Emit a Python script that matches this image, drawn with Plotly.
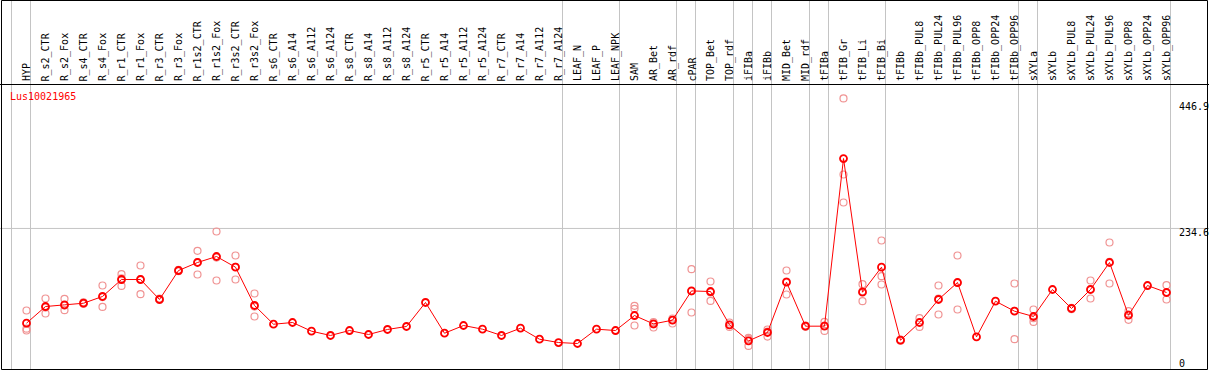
import plotly.graph_objects as go

# ---------------- data ----------------
gene_name = "Lus10021965"

categories = [
    "HYP", "R_s2_CTR", "R_s2_Fox", "R_s4_CTR", "R_s4_Fox", "R_r1_CTR", "R_r1_Fox",
    "R_r3_CTR", "R_r3_Fox", "R_r1s2_CTR", "R_r1s2_Fox", "R_r3s2_CTR", "R_r3s2_Fox",
    "R_s6_CTR", "R_s6_A14", "R_s6_A112", "R_s6_A124", "R_s8_CTR", "R_s8_A14",
    "R_s8_A112", "R_s8_A124", "R_r5_CTR", "R_r5_A14", "R_r5_A112", "R_r5_A124",
    "R_r7_CTR", "R_r7_A14", "R_r7_A112", "R_r7_A124", "LEAF_N", "LEAF_P", "LEAF_NPK",
    "SAM", "AR_Bet", "AR_rdf", "cPAR", "TOP_Bet", "TOP_rdf", "iFIBa", "iFIBb",
    "MID_Bet", "MID_rdf", "tFIBa", "tFIB_Gr", "tFIB_Li", "tFIB_Bi", "tFIBb",
    "tFIBb_PUL8", "tFIBb_PUL24", "tFIBb_PUL96", "tFIBb_OPP8", "tFIBb_OPP24",
    "tFIBb_OPP96", "sXYLa", "sXYLb", "sXYLb_PUL8", "sXYLb_PUL24", "sXYLb_PUL96",
    "sXYLb_OPP8", "sXYLb_OPP24", "sXYLb_OPP96",
]

mean_values = [
    79.9, 107.1, 109.8, 112.5, 123.5, 151.2, 151.2, 118.6, 165.9, 179.0, 188.8,
    171.3, 108.8, 78.2, 81.0, 66.8, 59.8, 67.9, 61.4, 69.6, 74.5, 113.7, 63.5,
    76.1, 70.1, 59.8, 71.7, 53.7, 48.3, 46.7, 70.1, 67.9, 92.4, 78.7, 84.8,
    132.6, 131.6, 77.1, 51.0, 64.7, 146.8, 75.0, 75.0, 348.8, 130.5, 171.3,
    52.1, 81.0, 118.6, 146.3, 57.5, 115.8, 99.5, 90.8, 134.9, 103.9, 134.9,
    179.0, 92.9, 141.4, 130.0,
]

replicate_1 = [
    100.6, 120.2, 119.6, 114.0, 141.4, 159.9, 174.1, 120.0, 167.0, 198.0, 229.6,
    190.4, 128.4, None, None, None, None, None, None, None, None, None, None,
    None, None, None, None, None, None, None, None, None, 108.2, 81.5, 87.5,
    168.1, 148.0, 81.0, 55.9, 69.6, 165.9, 76.0, 82.0, 446.9, 143.6, 214.9,
    53.0, 88.0, 141.4, 190.4, None, None, 144.7, 102.2, None, 105.0, 149.6,
    211.7, 99.5, None, 141.9,
]

replicate_2 = [
    71.0, 105.4, 108.7, 112.0, 122.6, 153.0, 152.0, 118.0, 166.0, 179.6, 187.0,
    172.0, 107.0, None, None, None, None, None, None, None, None, None, None,
    None, None, None, None, None, None, None, None, None, 103.3, 78.0, 85.0,
    132.0, 130.0, 77.0, 54.0, 66.0, 148.0, 75.0, 76.0, 322.7, 132.0, 156.6,
    52.0, 81.0, 120.0, 146.0, None, None, 100.0, 88.0, None, 104.0, 135.0,
    180.0, 94.0, None, 130.0,
]

replicate_3 = [
    67.9, 95.7, 101.1, 111.5, 106.5, 140.8, 127.2, 117.8, 164.7, 159.4, 149.6,
    151.2, 90.8, None, None, None, None, None, None, None, None, None, None,
    None, None, None, None, None, None, None, None, None, 76.1, 72.8, 79.4,
    97.3, 116.3, 73.8, 42.8, 58.1, 126.7, 74.0, 67.3, 277.0, 115.8, 143.1,
    51.3, 73.8, 94.1, 102.2, None, None, 53.7, 82.0, None, 102.7, 120.2,
    144.7, 85.3, None, 118.6,
]

# number of consecutive categories in each separated group
group_sizes = [1, 28, 3, 3, 1, 2, 1, 1, 2, 1, 3, 7, 1, 7]

axis_values = [446.9, 234.6, 0]
axis_labels = ["446.9", "234.6", "0"]
grid_values = [234.6]

# ---------------- layout geometry (pixels) ----------------
W, H = 1209, 370
STEP = 19.0            # px between categories
X0 = 26.5              # px centre of first category
HEADER = 84.5          # header separator line (px from top)
LABEL_BOTTOM = 82.5    # px where rotated header labels end
Y_ZERO_PX = 372.1      # px of value 0
PX_PER_UNIT = 0.6123

x_range = [-X0 / STEP, (W - X0) / STEP]
y_range = [(Y_ZERO_PX - H) / PX_PER_UNIT, Y_ZERO_PX / PX_PER_UNIT]


def py(p):
    return 1 - p / H


def px(p):
    return p / W


FONT = "DejaVu Sans Mono"
REP_COLOR = "#f09494"
MAIN_COLOR = "#ff0000"
GRID_COLOR = "#c4c4c4"

fig = go.Figure()

# replicate points
rx, ry = [], []
for rep in (replicate_1, replicate_2, replicate_3):
    for i, v in enumerate(rep):
        if v is not None:
            rx.append(i)
            ry.append(v)

fig.add_trace(go.Scatter(
    x=rx, y=ry, mode="markers",
    marker=dict(symbol="circle-open", size=7, color=REP_COLOR, line=dict(width=1.2)),
    hoverinfo="skip", showlegend=False,
))

# mean line
fig.add_trace(go.Scatter(
    x=list(range(len(categories))), y=mean_values, mode="lines+markers",
    line=dict(color=MAIN_COLOR, width=1),
    marker=dict(symbol="circle-open", size=7, color=MAIN_COLOR, line=dict(width=1.8)),
    text=categories, hovertemplate="%{text}: %{y}<extra></extra>",
    showlegend=False,
))

shapes = []
# vertical group separators
bounds = [-1]
acc = -1
for g in group_sizes:
    acc += g
    bounds.append(acc)
for b in bounds:
    shapes.append(dict(type="line", xref="x", yref="paper", x0=b + 4 / STEP, x1=b + 4 / STEP,
                       y0=0, y1=1, line=dict(color=GRID_COLOR, width=1), layer="below"))
# horizontal grid line(s)
for gv in grid_values:
    shapes.append(dict(type="line", xref="paper", yref="y", x0=0, x1=1, y0=gv, y1=gv,
                       line=dict(color=GRID_COLOR, width=1), layer="below"))
# frame
shapes.append(dict(type="line", xref="paper", yref="paper", x0=0, x1=1,
                   y0=py(HEADER), y1=py(HEADER), line=dict(color="black", width=1)))
shapes.append(dict(type="rect", xref="paper", yref="paper",
                   x0=px(1.5), x1=px(1207.5), y0=py(369.5), y1=py(0.5),
                   line=dict(color="black", width=1)))

annotations = []
# rotated column headers
for i, c in enumerate(categories):
    annotations.append(dict(
        x=i, xref="x", y=py(LABEL_BOTTOM), yref="paper", text=c, textangle=-90,
        showarrow=False, xanchor="center", yanchor="bottom",
        font=dict(family=FONT, size=10, color="black"), borderpad=0,
    ))
# gene name
annotations.append(dict(
    x=px(8.5), y=py(96.7), xref="paper", yref="paper", text=gene_name,
    showarrow=False, xanchor="left", yanchor="middle",
    font=dict(family=FONT, size=10, color=MAIN_COLOR), borderpad=0,
))
# right axis labels
label_centres = [106.3, 232.0, 363.0]
for lbl, yc in zip(axis_labels, label_centres):
    annotations.append(dict(
        x=px(1177.5), y=py(yc), xref="paper", yref="paper", text=lbl,
        showarrow=False, xanchor="left", yanchor="middle",
        font=dict(family=FONT, size=10, color="black"), borderpad=0,
    ))

fig.update_layout(
    width=W, height=H,
    margin=dict(l=0, r=0, t=0, b=0, pad=0),
    paper_bgcolor="white", plot_bgcolor="white",
    xaxis=dict(range=x_range, visible=False, showgrid=False, zeroline=False, fixedrange=True),
    yaxis=dict(range=y_range, visible=False, showgrid=False, zeroline=False, fixedrange=True),
    shapes=shapes, annotations=annotations, showlegend=False,
)

fig.write_html("out.html", config={"displayModeBar": False},
               post_script="document.body.style.margin='0px';document.body.style.overflow='hidden';")
